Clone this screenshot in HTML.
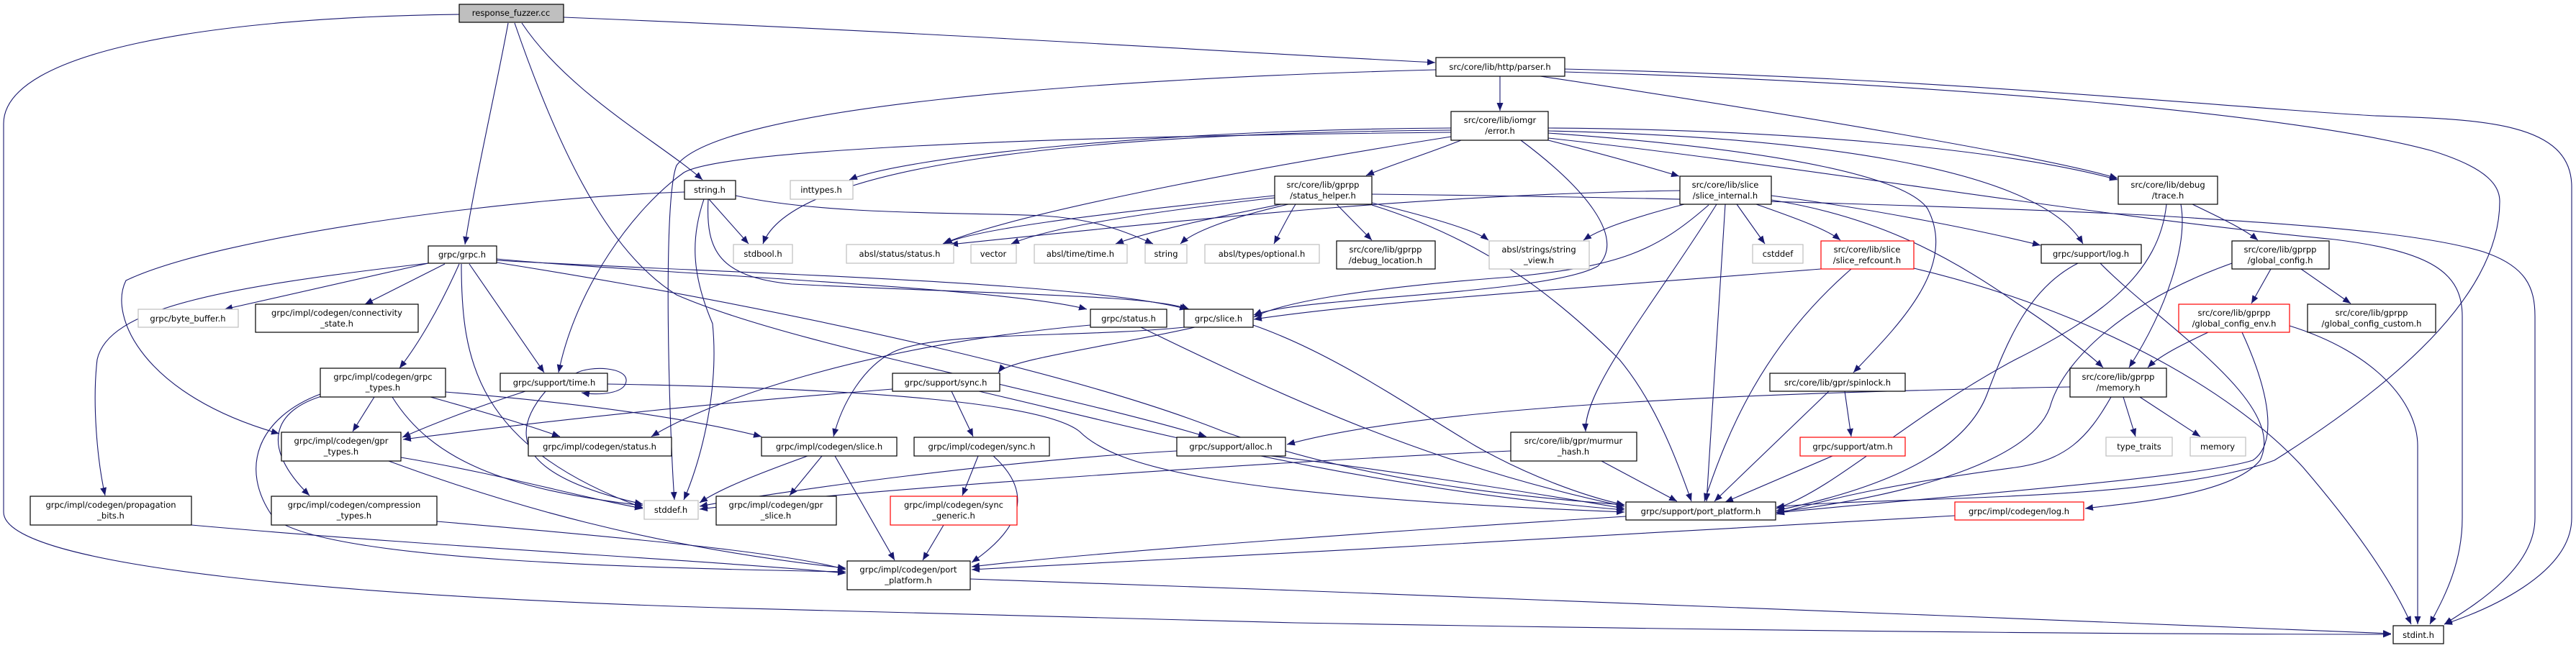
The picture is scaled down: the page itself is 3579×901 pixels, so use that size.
<!DOCTYPE html>
<html><head><meta charset="utf-8"><style>
html,body{margin:0;padding:0;background:#fff;}
svg{display:block;}
text{font-family:"DejaVu Sans","Liberation Sans",sans-serif;font-size:11.5px;fill:#000;text-anchor:middle;}
.e{fill:none;stroke:#191970;stroke-width:1.1;marker-end:url(#ah);}
.n{fill:#fff;stroke:#000;stroke-width:1.2;}
.g{fill:#fff;stroke:#bfbfbf;stroke-width:1.2;}
.r{fill:#fff;stroke:#ff0000;stroke-width:1.2;}
</style></head><body>
<svg width="3579" height="901" viewBox="0 0 3579 901" xmlns="http://www.w3.org/2000/svg">
<defs><marker id="ah" markerUnits="userSpaceOnUse" markerWidth="12" markerHeight="10" refX="11" refY="4.5" orient="auto"><path d="M0,0 L11,4.5 L0,9 z" fill="#191970"/></marker></defs>
<g>
<path class="e" d="M638,20 C300,24 5,70 5,172 L5,712 C5,790 500,830 1000,845 L1800,866 C2600,880 3100,882 3322,882"/>
<path class="e" d="M706,32 C690,120 660,250 646,340"/>
<path class="e" d="M725,32 C790,130 920,200 976,250"/>
<path class="e" d="M715,32 C790,250 860,360 940,410 C1100,480 1450,540 1676,607"/>
<path class="e" d="M783,24 C1300,45 1700,72 1994,87"/>
<path class="e" d="M2084,106 L2084,154"/>
<path class="e" d="M2174,96 C2700,108 3100,150 3300,161 C3450,166 3573,170 3573,260 L3573,720 C3573,800 3450,850 3396,868"/>
<path class="e" d="M2140,106 C2500,160 2850,220 2942,248"/>
<path class="e" d="M1995,97 C1500,110 1000,150 940,230 C920,280 930,600 937,695"/>
<path class="e" d="M2174,100 C2700,115 3200,160 3380,210 C3460,235 3473,260 3473,280 C3473,400 3350,520 3160,640 C3000,700 2600,690 2468,705"/>
<path class="e" d="M2030,195 C1980,215 1930,230 1898,244"/>
<path class="e" d="M2016,190 C1700,240 1400,300 1310,339"/>
<path class="e" d="M2151,195 C2230,215 2300,235 2333,245"/>
<path class="e" d="M2113,195 C2200,260 2260,330 2220,370 C2150,410 1800,413 1742,438"/>
<path class="e" d="M2151,178 C2500,180 2800,210 2942,250"/>
<path class="e" d="M2151,182 C2500,190 2830,230 2894,339"/>
<path class="e" d="M2151,185 C2500,210 2650,250 2678,290 C2720,370 2640,450 2575,518"/>
<path class="e" d="M2016,178 C1600,180 1250,220 1180,250"/>
<path class="e" d="M2016,181 C1500,185 1100,230 1060,339"/>
<path class="e" d="M2016,184 C1400,190 1000,210 950,240 C880,290 800,400 776,518"/>
<path class="e" d="M2151,192 C2500,230 2900,300 3244,333 C3380,350 3421,380 3421,440 L3421,720 C3421,790 3390,840 3376,868"/>
<path class="e" d="M1771,272 C1500,300 1350,320 1312,339"/>
<path class="e" d="M1771,275 C1550,300 1450,320 1405,339"/>
<path class="e" d="M1780,284 C1700,300 1600,320 1550,339"/>
<path class="e" d="M1790,284 C1720,300 1660,320 1640,339"/>
<path class="e" d="M1800,284 C1790,300 1780,320 1770,339"/>
<path class="e" d="M1857,284 L1906,334"/>
<path class="e" d="M1906,282 C1980,300 2050,320 2068,334"/>
<path class="e" d="M1906,285 C2050,330 2150,400 2250,500 C2300,560 2330,640 2350,697"/>
<path class="e" d="M1906,270 C2400,275 2800,290 3000,300 C3150,310 3350,320 3450,350 C3510,370 3522,400 3522,440 L3522,720 C3522,790 3440,840 3396,868"/>
<path class="e" d="M2340,284 C2260,305 2220,320 2200,334"/>
<path class="e" d="M2413,284 L2452,339"/>
<path class="e" d="M2440,284 C2500,305 2540,320 2557,334"/>
<path class="e" d="M2397,284 L2371,697"/>
<path class="e" d="M2385,284 C2300,420 2200,540 2203,600"/>
<path class="e" d="M2334,265 C2000,270 1700,300 1320,340"/>
<path class="e" d="M2374,285 C2300,350 2250,370 2100,385 C1900,400 1780,420 1742,441"/>
<path class="e" d="M2461,278 C2600,300 2700,350 2800,420 C2860,460 2900,490 2922,511"/>
<path class="e" d="M2461,272 C2600,290 2750,320 2835,341"/>
<path class="e" d="M3046,284 C3090,305 3120,320 3137,334"/>
<path class="e" d="M3030,284 C3040,340 3010,430 2958,511"/>
<path class="e" d="M3010,284 C3000,380 2920,440 2800,500 C2650,580 2550,680 2468,707"/>
<path class="e" d="M2887,366 C2820,400 2790,470 2760,550 C2720,650 2560,690 2468,710"/>
<path class="e" d="M2918,366 C3000,450 3180,560 3140,640 C3100,690 2950,700 2897,707"/>
<path class="e" d="M3155,374 L3128,422"/>
<path class="e" d="M3197,374 L3266,422"/>
<path class="e" d="M3101,366 C2950,420 2870,500 2850,560 C2830,640 2650,690 2468,712"/>
<path class="e" d="M3068,462 C3030,480 3000,495 2984,511"/>
<path class="e" d="M3181,453 C3300,490 3359,560 3359,620 L3359,868"/>
<path class="e" d="M3115,462 C3160,560 3160,620 3130,640 C3050,665 2700,690 2468,713"/>
<path class="e" d="M2950,552 L2967,607"/>
<path class="e" d="M2973,552 L3057,607"/>
<path class="e" d="M2933,552 C2900,610 2870,640 2800,650 C2650,670 2550,690 2468,715"/>
<path class="e" d="M2876,538 C2500,545 2000,560 1788,618"/>
<path class="e" d="M2563,544 L2572,607"/>
<path class="e" d="M2541,544 L2382,697"/>
<path class="e" d="M2546,634 L2397,698"/>
<path class="e" d="M2659,373 C2900,430 3100,540 3200,650 C3260,720 3320,800 3350,868"/>
<path class="e" d="M2530,374 C2200,400 1900,420 1742,444"/>
<path class="e" d="M2572,374 C2450,480 2400,600 2368,697"/>
<path class="e" d="M2225,641 L2330,697"/>
<path class="e" d="M2099,627 C1800,640 1200,680 972,708"/>
<path class="e" d="M1635,627 C1400,640 1100,680 972,704"/>
<path class="e" d="M1766,634 C1900,650 2100,680 2257,707"/>
<path class="e" d="M1515,452 C1200,480 980,560 905,607"/>
<path class="e" d="M1585,455 C1800,560 2000,650 2257,704"/>
<path class="e" d="M1660,455 C1550,480 1400,500 1387,518"/>
<path class="e" d="M1646,455 C1500,470 1300,460 1240,490 C1200,510 1170,560 1158,607"/>
<path class="e" d="M1741,452 C1850,490 1950,560 2050,620 C2120,660 2200,690 2257,702"/>
<path class="e" d="M1322,544 L1352,607"/>
<path class="e" d="M1240,541 C1000,560 800,580 560,611"/>
<path class="e" d="M1360,544 C1600,600 1900,680 2257,709"/>
<path class="e" d="M1359,634 L1337,689"/>
<path class="e" d="M1380,634 C1420,670 1440,720 1350,782"/>
<path class="e" d="M1311,730 L1282,779"/>
<path class="e" d="M1142,634 L1097,689"/>
<path class="e" d="M1122,634 C1050,660 1000,680 972,699"/>
<path class="e" d="M1160,634 L1243,779"/>
<path class="e" d="M800,519 C820,508 872,510 870,530 C868,548 830,550 808,546"/>
<path class="e" d="M730,544 C650,570 600,590 559,608"/>
<path class="e" d="M758,544 C710,600 710,660 893,701"/>
<path class="e" d="M844,534 C1200,540 1450,560 1500,600 C1550,650 1700,690 2257,712"/>
<path class="e" d="M520,552 L490,600"/>
<path class="e" d="M598,552 C680,575 730,590 778,607"/>
<path class="e" d="M619,545 C800,560 950,580 1058,607"/>
<path class="e" d="M545,552 C600,640 700,680 893,703"/>
<path class="e" d="M450,550 C380,570 360,620 430,689"/>
<path class="e" d="M445,548 C360,580 330,650 380,720 C450,780 900,790 1175,795"/>
<path class="e" d="M557,636 C700,660 800,690 893,707"/>
<path class="e" d="M540,641 C700,700 900,760 1175,790"/>
<path class="e" d="M595,366 L312,430"/>
<path class="e" d="M618,367 L507,423"/>
<path class="e" d="M638,367 C610,430 580,480 555,512"/>
<path class="e" d="M652,367 L756,518"/>
<path class="e" d="M595,366 C300,400 150,430 135,500 C128,560 135,640 146,689"/>
<path class="e" d="M641,367 C641,500 660,620 893,706"/>
<path class="e" d="M690,360 C900,380 1400,400 1510,430"/>
<path class="e" d="M690,362 C1000,380 1500,390 1650,430"/>
<path class="e" d="M690,365 C1100,430 1500,520 1700,600 C1900,670 2100,690 2257,702"/>
<path class="e" d="M985,277 L1040,339"/>
<path class="e" d="M1022,272 C1150,300 1350,295 1450,300 C1520,305 1560,320 1602,339"/>
<path class="e" d="M978,277 C960,330 960,380 990,450 C1000,550 970,650 950,695"/>
<path class="e" d="M951,267 C700,275 300,330 175,390 C150,440 200,550 388,603"/>
<path class="e" d="M984,277 C980,350 1000,385 1100,395 C1400,410 1600,410 1652,430"/>
<path class="e" d="M266,730 C600,760 1000,780 1175,797"/>
<path class="e" d="M607,725 C900,750 1100,770 1175,792"/>
<path class="e" d="M1348,805 L1800,821 L2700,856 L3322,881"/>
<path class="e" d="M2259,718 C1900,740 1500,770 1350,788"/>
<path class="e" d="M2716,717 C2300,740 1800,770 1350,792"/>
</g>
<g>
<rect x="638" y="6" width="145" height="25" fill="#bfbfbf" stroke="#000" stroke-width="1.2"/><text x="710" y="22">response_fuzzer.cc</text>
<rect class="n" x="1995" y="80" width="179" height="26"/><text x="2084" y="97">src/core/lib/http/parser.h</text>
<rect class="n" x="2016" y="155" width="135" height="40"/><text x="2084" y="171">src/core/lib/iomgr</text><text x="2084" y="186">/error.h</text>
<rect class="n" x="951" y="251" width="71" height="26"/><text x="986" y="268">string.h</text>
<rect class="g" x="1098" y="251" width="87" height="26"/><text x="1141" y="268">inttypes.h</text>
<rect class="n" x="1771" y="245" width="135" height="39"/><text x="1838" y="261">src/core/lib/gprpp</text><text x="1838" y="276">/status_helper.h</text>
<rect class="n" x="2334" y="245" width="127" height="39"/><text x="2397" y="261">src/core/lib/slice</text><text x="2397" y="276">/slice_internal.h</text>
<rect class="n" x="2943" y="245" width="138" height="39"/><text x="3012" y="261">src/core/lib/debug</text><text x="3012" y="276">/trace.h</text>
<rect class="n" x="595" y="342" width="95" height="24"/><text x="642" y="358">grpc/grpc.h</text>
<rect class="g" x="1019" y="340" width="82" height="26"/><text x="1060" y="357">stdbool.h</text>
<rect class="g" x="1176" y="340" width="149" height="26"/><text x="1250" y="357">absl/status/status.h</text>
<rect class="g" x="1349" y="340" width="63" height="26"/><text x="1380" y="357">vector</text>
<rect class="g" x="1437" y="340" width="129" height="26"/><text x="1501" y="357">absl/time/time.h</text>
<rect class="g" x="1591" y="340" width="58" height="26"/><text x="1620" y="357">string</text>
<rect class="g" x="1674" y="340" width="159" height="26"/><text x="1753" y="357">absl/types/optional.h</text>
<rect class="n" x="1857" y="335" width="137" height="39"/><text x="1925" y="351">src/core/lib/gprpp</text><text x="1925" y="366">/debug_location.h</text>
<rect class="g" x="2069" y="335" width="139" height="39"/><text x="2138" y="351">absl/strings/string</text><text x="2138" y="366">_view.h</text>
<rect class="g" x="2435" y="340" width="70" height="26"/><text x="2470" y="357">cstddef</text>
<rect class="r" x="2530" y="335" width="129" height="39"/><text x="2594" y="351">src/core/lib/slice</text><text x="2594" y="366">/slice_refcount.h</text>
<rect class="n" x="2836" y="340" width="139" height="26"/><text x="2905" y="357">grpc/support/log.h</text>
<rect class="n" x="3101" y="335" width="135" height="39"/><text x="3168" y="351">src/core/lib/gprpp</text><text x="3168" y="366">/global_config.h</text>
<rect class="g" x="192" y="430" width="139" height="25"/><text x="261" y="447">grpc/byte_buffer.h</text>
<rect class="n" x="355" y="423" width="226" height="39"/><text x="468" y="439">grpc/impl/codegen/connectivity</text><text x="468" y="454">_state.h</text>
<rect class="n" x="1515" y="430" width="106" height="25"/><text x="1568" y="447">grpc/status.h</text>
<rect class="n" x="1645" y="430" width="96" height="25"/><text x="1693" y="447">grpc/slice.h</text>
<rect class="r" x="3027" y="423" width="154" height="39"/><text x="3104" y="439">src/core/lib/gprpp</text><text x="3104" y="454">/global_config_env.h</text>
<rect class="n" x="3206" y="423" width="178" height="39"/><text x="3295" y="439">src/core/lib/gprpp</text><text x="3295" y="454">/global_config_custom.h</text>
<rect class="n" x="445" y="512" width="174" height="40"/><text x="532" y="528">grpc/impl/codegen/grpc</text><text x="532" y="543">_types.h</text>
<rect class="n" x="695" y="519" width="149" height="25"/><text x="770" y="536">grpc/support/time.h</text>
<rect class="n" x="1240" y="519" width="149" height="25"/><text x="1314" y="536">grpc/support/sync.h</text>
<rect class="n" x="2459" y="519" width="188" height="25"/><text x="2553" y="536">src/core/lib/gpr/spinlock.h</text>
<rect class="n" x="2876" y="512" width="134" height="40"/><text x="2943" y="528">src/core/lib/gprpp</text><text x="2943" y="543">/memory.h</text>
<rect class="n" x="391" y="601" width="166" height="40"/><text x="474" y="617">grpc/impl/codegen/gpr</text><text x="474" y="632">_types.h</text>
<rect class="n" x="734" y="608" width="199" height="26"/><text x="833" y="625">grpc/impl/codegen/status.h</text>
<rect class="n" x="1058" y="608" width="188" height="26"/><text x="1152" y="625">grpc/impl/codegen/slice.h</text>
<rect class="n" x="1270" y="608" width="188" height="26"/><text x="1364" y="625">grpc/impl/codegen/sync.h</text>
<rect class="n" x="1635" y="608" width="151" height="26"/><text x="1710" y="625">grpc/support/alloc.h</text>
<rect class="n" x="2099" y="601" width="175" height="40"/><text x="2186" y="617">src/core/lib/gpr/murmur</text><text x="2186" y="632">_hash.h</text>
<rect class="r" x="2501" y="608" width="146" height="26"/><text x="2574" y="625">grpc/support/atm.h</text>
<rect class="g" x="2926" y="608" width="92" height="26"/><text x="2972" y="625">type_traits</text>
<rect class="g" x="3043" y="608" width="77" height="26"/><text x="3081" y="625">memory</text>
<rect class="n" x="42" y="690" width="224" height="40"/><text x="154" y="706">grpc/impl/codegen/propagation</text><text x="154" y="721">_bits.h</text>
<rect class="n" x="377" y="690" width="230" height="40"/><text x="492" y="706">grpc/impl/codegen/compression</text><text x="492" y="721">_types.h</text>
<rect class="g" x="895" y="696" width="75" height="26"/><text x="932" y="713">stddef.h</text>
<rect class="n" x="995" y="690" width="167" height="40"/><text x="1078" y="706">grpc/impl/codegen/gpr</text><text x="1078" y="721">_slice.h</text>
<rect class="r" x="1237" y="690" width="176" height="40"/><text x="1325" y="706">grpc/impl/codegen/sync</text><text x="1325" y="721">_generic.h</text>
<rect class="n" x="2259" y="698" width="208" height="25"/><text x="2363" y="715">grpc/support/port_platform.h</text>
<rect class="r" x="2716" y="698" width="179" height="25"/><text x="2805" y="715">grpc/impl/codegen/log.h</text>
<rect class="n" x="1177" y="780" width="171" height="40"/><text x="1262" y="796">grpc/impl/codegen/port</text><text x="1262" y="811">_platform.h</text>
<rect class="n" x="3325" y="870" width="70" height="25"/><text x="3360" y="887">stdint.h</text>
</g>
</svg>
</body></html>
